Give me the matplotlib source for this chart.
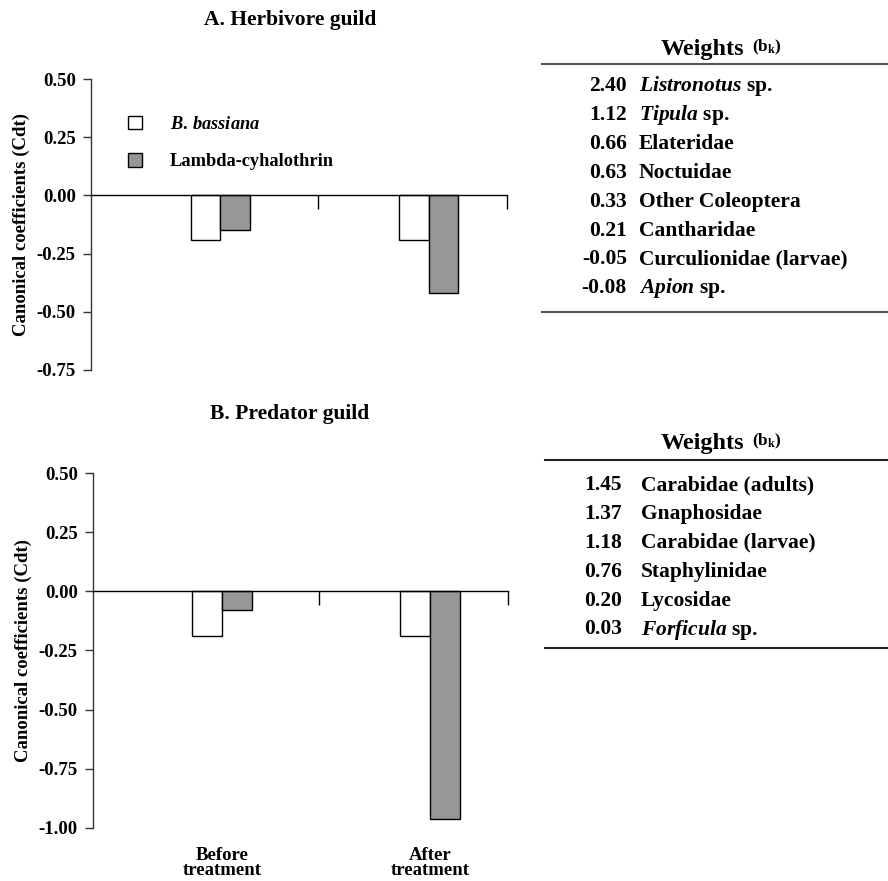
import numpy as np
import matplotlib
matplotlib.use('Agg')
import matplotlib.pyplot as plt
from matplotlib.lines import Line2D

plt.rcParams['font.family'] = ['Liberation Serif', 'DejaVu Serif']
plt.rcParams['font.weight'] = 'bold'
plt.rcParams['axes.labelweight'] = 'bold'
plt.rcParams['mathtext.fontset'] = 'custom'
plt.rcParams['mathtext.rm'] = 'Liberation Serif:bold'
plt.rcParams['mathtext.it'] = 'Liberation Serif:italic:bold'

# data
groups = ['Before\ntreatment', 'After\ntreatment']
series = [r'$\mathit{B.\,bassiana}$', 'Lambda-cyhalothrin']

herb_bassiana = [-0.19, -0.19]
herb_lambda = [-0.15, -0.42]
pred_bassiana = [-0.19, -0.19]
pred_lambda = [-0.08, -0.96]

herb_weights = ['2.40', '1.12', '0.66', '0.63', '0.33', '0.21', '-0.05', '-0.08']
herb_taxa = [r'$\mathit{Listronotus}$ sp.', r'$\mathit{Tipula}$ sp.', 'Elateridae',
             'Noctuidae', 'Other Coleoptera', 'Cantharidae',
             'Curculionidae (larvae)', r'$\mathit{Apion}$ sp.']
pred_weights = ['1.45', '1.37', '1.18', '0.76', '0.20', '0.03']
pred_taxa = ['Carabidae (adults)', 'Gnaphosidae', 'Carabidae (larvae)',
             'Staphylinidae', 'Lycosidae', r'$\mathit{Forficula}$ sp.']

W, H = 888, 881
fig = plt.figure(figsize=(W / 100, H / 100), dpi=100)


def px(x, y):
    return x / W, 1 - y / H


gray = '#979797'
bw = 0.142
xpos = np.arange(len(groups))


def draw_panel(ax, bb, lc, ymin, yticks, title, title_y):
    ax.bar(xpos - bw / 2, bb, bw, color='white', edgecolor='black', linewidth=1, label=series[0])
    ax.bar(xpos + bw / 2, lc, bw, color=gray, edgecolor='black', linewidth=1, label=series[1])
    ax.set_xlim(-0.62, 1.375)
    ax.set_ylim(ymin, 0.5)
    ax.spines['top'].set_visible(False)
    ax.spines['right'].set_visible(False)
    ax.spines['bottom'].set_position(('data', 0))
    ax.spines['bottom'].set_linewidth(1)
    ax.spines['left'].set_linewidth(1)
    ax.spines['left'].set_color('#333333')
    ax.set_yticks(yticks)
    ax.set_yticklabels(['%.2f' % v for v in yticks], fontsize=13.5)
    ax.tick_params(axis='y', length=6, width=1, pad=5, color='#333333')
    ax.set_xticks([0.468, 1.375])
    ax.set_xticklabels([])
    ax.tick_params(axis='x', length=10, width=1, direction='out')
    ax.set_ylabel('Canonical coefficients (Cdt)', fontsize=13.5, labelpad=5)
    fig.text(*px(290, title_y), title, fontsize=15.5, ha='center', va='center')


ax1 = fig.add_axes([91 / W, 1 - 370 / H, 416 / W, 291 / H])
draw_panel(ax1, herb_bassiana, herb_lambda, -0.75, [0.5, 0.25, 0, -0.25, -0.5, -0.75],
           'A. Herbivore guild', 20)
leg = ax1.legend(loc='upper left', bbox_to_anchor=(0.068, 0.905), frameon=False,
                 fontsize=13.2, handlelength=0.75, handleheight=0.75,
                 handletextpad=1.5, labelspacing=1.1, borderpad=0)

ax2 = fig.add_axes([93 / W, 1 - 828 / H, 415 / W, 355 / H])
draw_panel(ax2, pred_bassiana, pred_lambda, -1.0, [0.5, 0.25, 0, -0.25, -0.5, -0.75, -1.0],
           'B. Predator guild', 414)
for i, g in enumerate(groups):
    ax2.text(xpos[i], -1.08, g, ha='center', va='top', fontsize=13.5, linespacing=0.88)


def draw_table(weights, taxa, head_y, line1_y, row0_y, line2_y, num_x, name_x, x0, lc):
    fig.text(*px(702, head_y), 'Weights', fontsize=17.5, ha='center', va='baseline')
    fig.text(*px(752, head_y - 4), r'(b$_\mathrm{k}$)', fontsize=12.5, ha='left', va='baseline')
    fig.add_artist(Line2D([x0 / W, 1], [1 - line1_y / H] * 2, color=lc, lw=1.5))
    fig.add_artist(Line2D([x0 / W, 1], [1 - line2_y / H] * 2, color=lc, lw=1.5))
    step = 28.9
    for i, (w, t) in enumerate(zip(weights, taxa)):
        y = row0_y + i * step
        fig.text(*px(num_x, y), w, fontsize=15.5, ha='right', va='center')
        fig.text(*px(name_x, y), t, fontsize=15.5, ha='left', va='center')


draw_table(herb_weights, herb_taxa, 55, 64, 86, 312, 627, 639, 542, '#555555')
draw_table(pred_weights, pred_taxa, 449, 460, 485, 648, 622, 641, 545, '#222222')

fig.savefig('out.png', dpi=100)
